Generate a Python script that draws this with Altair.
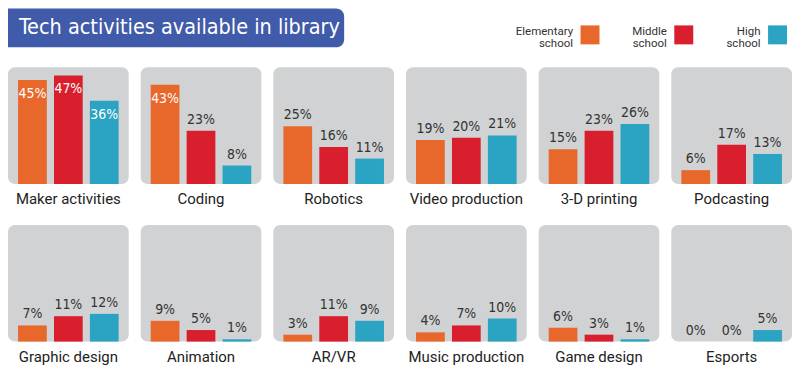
import altair as alt
import pandas as pd

title_text = "Tech activities available in library"
categories = ["Maker activities", "Coding", "Robotics", "Video production", "3-D printing", "Podcasting",
              "Graphic design", "Animation", "AR/VR", "Music production", "Game design", "Esports"]
levels = ["Elementary school", "Middle school", "High school"]
elementary = [45, 43, 25, 19, 15, 6, 7, 9, 3, 4, 6, 0]
middle = [47, 23, 16, 20, 23, 17, 11, 5, 11, 7, 3, 0]
high = [36, 8, 11, 21, 26, 13, 12, 1, 9, 10, 1, 5]
colors = ["#E8672A", "#D91F2D", "#2BA3C2"]

rows = []
for i, c in enumerate(categories):
    for lv, vals in zip(levels, [elementary, middle, high]):
        rows.append({"cat": c, "level": lv, "value": vals[i], "label": f"{vals[i]}%"})
df = pd.DataFrame(rows)

NARROW = "Liberation Sans Narrow, DejaVu Sans Condensed, sans-serif"
PW, PH = 121, 117

# ---------- header ----------
title_df = pd.DataFrame({"t": [title_text]})
box = alt.Chart(title_df).mark_rect(color="#3F5BA9", cornerRadiusTopRight=8,
                                    cornerRadiusBottomRight=8).encode(
    x=alt.value(0), x2=alt.value(337), y=alt.value(0), y2=alt.value(39))
ttext = alt.Chart(title_df).mark_text(color="white", font=NARROW, fontSize=21.5, align="left",
                                      baseline="middle").encode(
    x=alt.value(11), y=alt.value(20), text="t:N")

leg_df = pd.DataFrame({"level": levels, "idx": list(range(len(levels)))})
xleg = alt.X("idx:Q", scale=alt.Scale(domain=[0, 2], range=[583.5, 771.5]), axis=None)
leg_sq = alt.Chart(leg_df).mark_square(size=361, opacity=1).encode(
    x=xleg, y=alt.value(26.5),
    color=alt.Color("level:N", scale=alt.Scale(domain=levels, range=colors), legend=None))
leg_tx = alt.Chart(leg_df).mark_text(align="right", baseline="middle", lineBreak=" ", lineHeight=12.5,
                                     font="Roboto", fontSize=11.5, color="#333333", dx=-17).encode(
    x=xleg, y=alt.value(23.5), text="level:N")

header = alt.layer(box, ttext, leg_sq, leg_tx).properties(
    width=786, height=50, view=alt.ViewBackground(fill="white", stroke="white", strokeWidth=0))

# ---------- panels ----------
xenc = alt.X("level:N", sort=levels, axis=None,
             scale=alt.Scale(paddingInner=0.2, paddingOuter=0.28))
yenc = alt.Y("value:Q", axis=None, scale=alt.Scale(domain=[0, 50.5], nice=False))

bars = alt.Chart().mark_bar().encode(
    x=xenc, y=yenc,
    color=alt.Color("level:N", scale=alt.Scale(domain=levels, range=colors), legend=None))
out_lbl = alt.Chart().transform_filter("datum.value < 30").mark_text(
    baseline="bottom", dy=-4, font=NARROW, fontSize=14, color="#333333").encode(
    x=xenc, y=yenc, text="label:N")
in_lbl = alt.Chart().transform_filter("datum.value >= 30").mark_text(
    baseline="top", dy=7, font=NARROW, fontSize=14, color="white").encode(
    x=xenc, y=yenc, text="label:N")

panels = alt.layer(bars, out_lbl, in_lbl, data=df).properties(width=PW, height=PH).facet(
    facet=alt.Facet("cat:N", sort=categories,
                    header=alt.Header(title=None, labelOrient="bottom", labelFont="Roboto",
                                      labelFontSize=15, labelColor="#222222", labelPadding=8)),
    columns=6, spacing={"row": 18, "column": 12})

chart = alt.vconcat(header, panels, spacing=9).properties(padding=0).configure_view(
    fill="#D1D2D4", stroke=None, cornerRadius=7).configure_concat(spacing=9)

chart.save("out.html", embed_options={"renderer": "svg", "actions": False})
